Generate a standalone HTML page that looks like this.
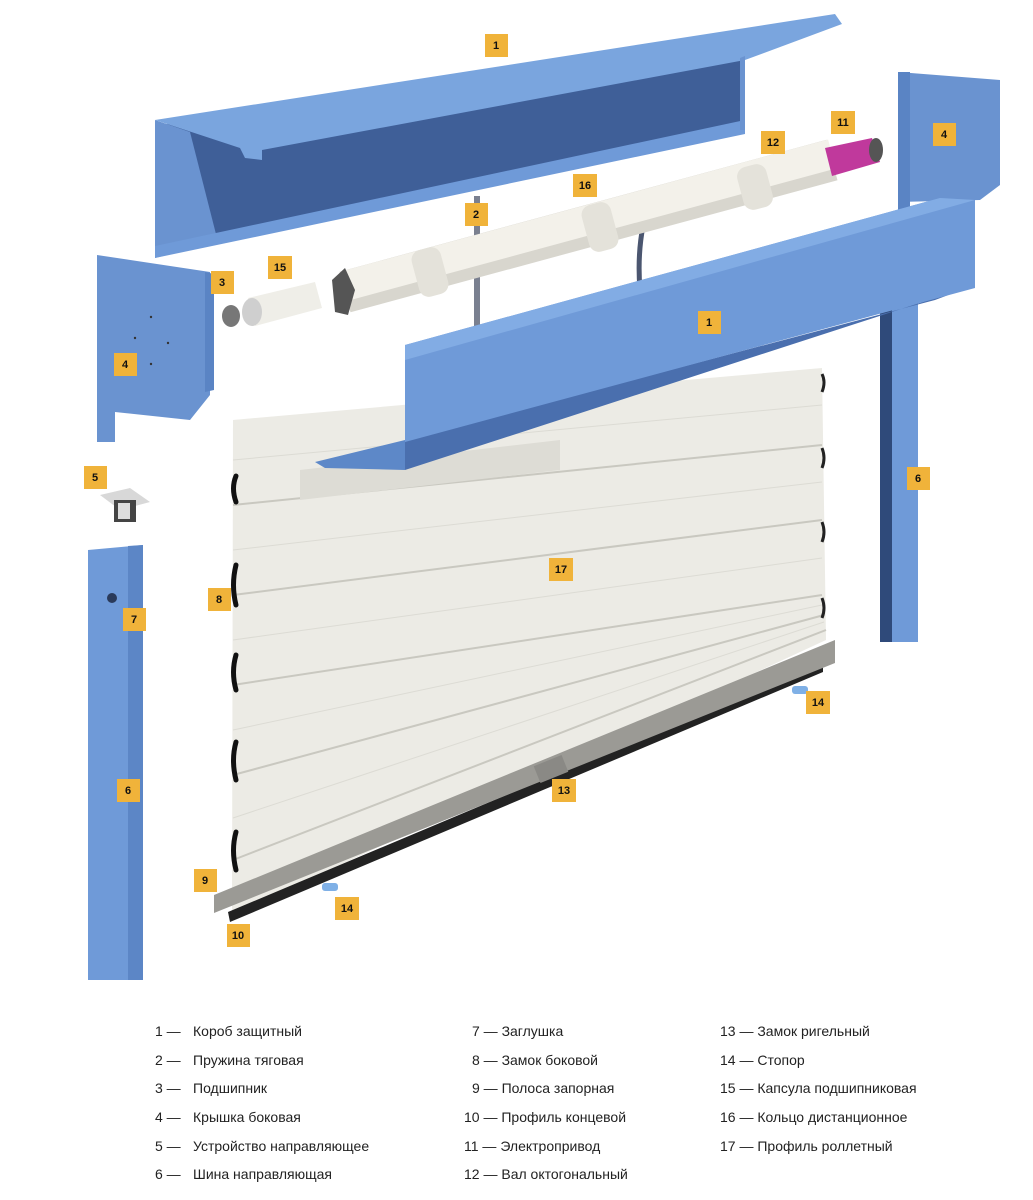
<!DOCTYPE html>
<html><head><meta charset="utf-8"><style>
body{margin:0;background:#fff;}
svg{display:block}
.lb rect{fill:#f0b33a}
.lb text{font:bold 11px "Liberation Sans",sans-serif;fill:#111;text-anchor:middle}
.lg{font:14px "Liberation Sans",sans-serif;fill:#222}
</style></head><body>
<svg width="1033" height="1200" viewBox="0 0 1033 1200" xmlns="http://www.w3.org/2000/svg">
<!-- top box -->
<polygon points="160,125 745,56 745,128 160,250" fill="#3f5f98"/>
<polygon points="155,120 190,132 218,242 155,258" fill="#6a93d0"/>
<polygon points="155,246 745,120 745,134 155,258" fill="#6f9ad8"/>
<polygon points="155,120 835,14 842,24 745,60 262,150 262,160 245,158 240,148" fill="#7aa5de"/>
<polygon points="745,56 745,130 740,130 740,58" fill="#6a93d0"/>
<!-- right cover 4 -->
<polygon points="898,72 1000,80 1000,185 980,200 898,202" fill="#6a93d0"/>
<polygon points="898,72 910,72 910,215 898,215" fill="#5a84c4"/>
<!-- right rail 6 -->
<polygon points="880,300 918,296 918,642 880,642" fill="#6f9ad8"/>
<polygon points="880,300 892,300 892,642 880,642" fill="#2f4a7a"/>
<!-- spring 2 -->
<rect x="474" y="196" width="6" height="130" fill="#7a8090"/>
<path d="M650,200 Q636,240 640,290" stroke="#4b5670" stroke-width="5" fill="none"/>
<!-- shaft -->
<line x1="345" y1="292" x2="832" y2="160" stroke="#d8d6ce" stroke-width="42"/>
<line x1="345" y1="286" x2="832" y2="154" stroke="#f3f1ea" stroke-width="30"/>
<polygon points="332,280 345,268 355,290 348,315 335,312" fill="#555"/>
<rect x="415" y="248" width="30" height="48" rx="10" fill="#e4e2da" transform="rotate(-15 430 272)"/>
<rect x="585" y="203" width="30" height="48" rx="10" fill="#e4e2da" transform="rotate(-15 600 227)"/>
<rect x="740" y="165" width="30" height="44" rx="10" fill="#e4e2da" transform="rotate(-15 755 187)"/>
<polygon points="825,148 872,138 880,162 832,176" fill="#c0399c"/>
<ellipse cx="876" cy="150" rx="7" ry="12" fill="#555"/>
<!-- capsule 15 & bearing 3 -->
<polygon points="248,298 315,282 322,308 255,326" fill="#efeee8"/>
<ellipse cx="252" cy="312" rx="10" ry="14" fill="#cfcfcf"/>
<ellipse cx="231" cy="316" rx="9" ry="11" fill="#777"/>
<!-- left cover 4 -->
<polygon points="97,255 210,272 210,395 190,420 115,412 115,442 97,442" fill="#6a93d0"/>
<polygon points="205,272 214,274 214,390 205,392" fill="#5a84c4"/>
<circle cx="151" cy="317" r="1.2" fill="#333"/><circle cx="135" cy="338" r="1.2" fill="#333"/><circle cx="168" cy="343" r="1.2" fill="#333"/><circle cx="151" cy="364" r="1.2" fill="#333"/>
<!-- part 5 -->
<polygon points="100,495 130,488 150,502 120,510" fill="#d8d8d8"/>
<rect x="114" y="500" width="22" height="22" fill="#444"/>
<rect x="118" y="503" width="12" height="16" fill="#ddd"/>
<!-- left rail 6 -->
<polygon points="88,550 143,545 143,980 88,980" fill="#6f9ad8"/>
<polygon points="128,546 143,545 143,980 128,980" fill="#5c86c6"/>
<circle cx="112" cy="598" r="5" fill="#2a3a5a"/>
<!-- curtain -->
<polygon points="233,420 822,368 826,640 232,915" fill="#ecebe5"/>
<g stroke="#c9c8c0" stroke-width="2">
<line x1="233" y1="505" x2="822" y2="445"/>
<line x1="233" y1="595" x2="822" y2="520"/>
<line x1="233" y1="685" x2="822" y2="595"/>
<line x1="233" y1="775" x2="824" y2="615"/>
<line x1="233" y1="860" x2="826" y2="630"/>
</g>
<g stroke="#dcdbd4" stroke-width="1">
<line x1="233" y1="460" x2="822" y2="405"/><line x1="233" y1="550" x2="822" y2="482"/>
<line x1="233" y1="640" x2="822" y2="558"/><line x1="233" y1="730" x2="822" y2="605"/>
<line x1="233" y1="818" x2="824" y2="622"/>
</g>
<polygon points="300,470 560,440 560,470 300,500" fill="#dddcd5"/>
<g stroke="#111" stroke-width="5" fill="none" stroke-linecap="round">
<path d="M236,476 Q231,488 236,502"/><path d="M236,565 Q231,585 236,605"/>
<path d="M236,655 Q231,672 236,690"/><path d="M236,742 Q231,760 236,780"/>
<path d="M236,832 Q231,850 236,870"/>
</g>
<g stroke="#222" stroke-width="3" fill="none">
<path d="M822,374 Q826,382 822,392"/><path d="M822,448 Q826,458 822,468"/>
<path d="M822,522 Q826,532 822,542"/><path d="M822,598 Q826,608 822,618"/>
</g>
<!-- front box -->
<polygon points="315,462 405,440 405,470 325,468" fill="#5d88c8"/>
<polygon points="405,440 935,300 975,285 405,470" fill="#4a6fae"/>
<polygon points="405,345 940,198 975,200 975,288 405,442" fill="#6f9ad8"/>
<polygon points="405,345 940,198 975,200 405,360" fill="#82acE4"/>
<!-- bottom bar -->
<polygon points="228,912 823,662 823,672 230,922" fill="#222"/>
<polygon points="214,895 835,640 835,663 214,913" fill="#9b9a95"/>
<rect x="536" y="760" width="30" height="18" fill="#8a8985" transform="rotate(-22 551 769)"/>
<rect x="792" y="686" width="16" height="8" rx="3" fill="#7fb0e6"/>
<rect x="322" y="883" width="16" height="8" rx="3" fill="#7fb0e6"/>
<!-- labels -->
<g class="lb">
<rect x="485" y="34" width="23" height="23"/><text x="496" y="49">1</text>
<rect x="698" y="311" width="23" height="23"/><text x="709" y="326">1</text>
<rect x="465" y="203" width="23" height="23"/><text x="476" y="218">2</text>
<rect x="211" y="271" width="23" height="23"/><text x="222" y="286">3</text>
<rect x="933" y="123" width="23" height="23"/><text x="944" y="138">4</text>
<rect x="114" y="353" width="23" height="23"/><text x="125" y="368">4</text>
<rect x="84" y="466" width="23" height="23"/><text x="95" y="481">5</text>
<rect x="907" y="467" width="23" height="23"/><text x="918" y="482">6</text>
<rect x="117" y="779" width="23" height="23"/><text x="128" y="794">6</text>
<rect x="123" y="608" width="23" height="23"/><text x="134" y="623">7</text>
<rect x="208" y="588" width="23" height="23"/><text x="219" y="603">8</text>
<rect x="194" y="869" width="23" height="23"/><text x="205" y="884">9</text>
<rect x="227" y="924" width="23" height="23"/><text x="238" y="939">10</text>
<rect x="831" y="111" width="24" height="23"/><text x="843" y="126">11</text>
<rect x="761" y="131" width="24" height="23"/><text x="773" y="146">12</text>
<rect x="552" y="779" width="24" height="23"/><text x="564" y="794">13</text>
<rect x="806" y="691" width="24" height="23"/><text x="818" y="706">14</text>
<rect x="335" y="897" width="24" height="23"/><text x="347" y="912">14</text>
<rect x="268" y="256" width="24" height="23"/><text x="280" y="271">15</text>
<rect x="573" y="174" width="24" height="23"/><text x="585" y="189">16</text>
<rect x="549" y="558" width="24" height="23"/><text x="561" y="573">17</text>
</g>
<!-- legend -->
<g class="lg">
<text x="155" y="1036">1 —</text><text x="193" y="1036">Короб защитный</text>
<text x="155" y="1065">2 —</text><text x="193" y="1065">Пружина тяговая</text>
<text x="155" y="1093">3 —</text><text x="193" y="1093">Подшипник</text>
<text x="155" y="1122">4 —</text><text x="193" y="1122">Крышка боковая</text>
<text x="155" y="1151">5 —</text><text x="193" y="1151">Устройство направляющее</text>
<text x="155" y="1179">6 —</text><text x="193" y="1179">Шина направляющая</text>
<text x="472" y="1036">7 —  Заглушка</text>
<text x="472" y="1065">8 —  Замок боковой</text>
<text x="472" y="1093">9 —  Полоса запорная</text>
<text x="464" y="1122">10 — Профиль концевой</text>
<text x="464" y="1151">11 — Электропривод</text>
<text x="464" y="1179">12 — Вал октогональный</text>
<text x="720" y="1036">13 — Замок ригельный</text>
<text x="720" y="1065">14 — Стопор</text>
<text x="720" y="1093">15 — Капсула подшипниковая</text>
<text x="720" y="1122">16 — Кольцо дистанционное</text>
<text x="720" y="1151">17 — Профиль роллетный</text>
</g>
</svg>
</body></html>
